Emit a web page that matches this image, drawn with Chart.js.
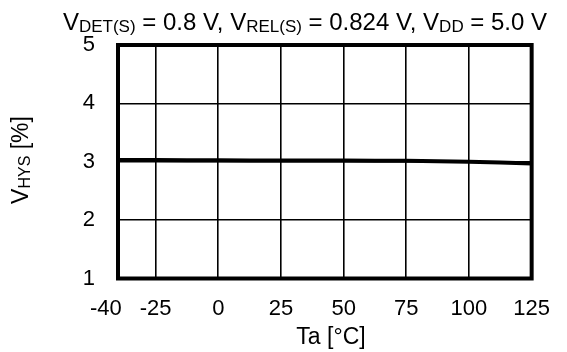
<!DOCTYPE html>
<html>
<head>
<meta charset="utf-8">
<script src="https://cdn.jsdelivr.net/npm/chart.js@4"></script>
<style>
  html, body { margin: 0; padding: 0; background: #fff; }
  #wrap { width: 567px; height: 352px; }
</style>
</head>
<body>
<div id="wrap"><canvas id="chart"></canvas></div>
<script>
/* VHYS vs Ta — hysteresis over temperature */

const TEMPS = [-40, -25, 0, 25, 50, 75, 100, 125];
const X_TICKS = [-40, -25, 0, 25, 50, 75, 100, 125];
const Y_TICKS = [1, 2, 3, 4, 5];
const HYS = [3.03, 3.03, 3.025, 3.02, 3.02, 3.015, 3.0, 2.97];

const FONT = "'Liberation Sans', Arial, sans-serif";

// draw text with subscript pieces; parts = [[text, isSub], ...]
function drawRich(ctx, parts, x, y, size, subSize, align) {
    const widths = parts.map(p => {
        ctx.font = `${p[1] ? subSize : size}px ${FONT}`;
        return ctx.measureText(p[0]).width;
    });
    const total = widths.reduce((a, b) => a + b, 0);
    let cx = align === "center" ? x - total / 2 : x;
    parts.forEach((p, i) => {
        ctx.font = `${p[1] ? subSize : size}px ${FONT}`;
        ctx.fillText(p[0], cx, p[1] ? y + 2 : y);
        cx += widths[i];
    });
}

const decorPlugin = {
    id: "decor",
    afterDatasetsDraw(chart) {
        const { ctx, chartArea: a } = chart;
        ctx.save();
        ctx.strokeStyle = "#000";
        ctx.lineWidth = 4;
        ctx.strokeRect(a.left, a.top, a.right - a.left, a.bottom - a.top);

        ctx.fillStyle = "#000";
        ctx.textBaseline = "alphabetic";
        ctx.textAlign = "left";
        drawRich(ctx, [
            ["V", false], ["DET(S)", true], [" = 0.8 V, V", false], ["REL(S)", true],
            [" = 0.824 V, V", false], ["DD", true], [" = 5.0 V", false]
        ], 305, 30, 24, 17, "center");

        drawRich(ctx, [["Ta [°C]", false]], 331, 344, 23, 16, "center");

        ctx.translate(28, 160);
        ctx.rotate(-Math.PI / 2);
        drawRich(ctx, [["V", false], ["HYS", true], [" [%]", false]], 0, 0, 23, 16, "center");
        ctx.restore();
    }
};

new Chart(document.getElementById("chart"), {
    type: "line",
    data: {
        datasets: [{
            data: TEMPS.map((t, i) => ({ x: t, y: HYS[i] })),
            borderColor: "#000",
            borderWidth: 4,
            pointRadius: 0,
            tension: 0.3,
            fill: false,
        }]
    },
    options: {
        responsive: true,
        maintainAspectRatio: false,
        animation: false,
        layout: { padding: { top: 45, right: 20, left: 0, bottom: 0 } },
        plugins: { legend: { display: false }, tooltip: { enabled: false } },
        scales: {
            x: {
                type: "linear",
                min: -40,
                max: 125,
                afterBuildTicks: (s) => { s.ticks = X_TICKS.map(v => ({ value: v })); },
                afterFit: (s) => { s.height = 73.5; },
                grid: { color: "#000", lineWidth: 1.6, drawTicks: false },
                border: { display: false },
                ticks: {
                    color: "#000", padding: 17, maxRotation: 0, autoSkip: false,
                    font: { family: FONT, size: 22 },
                    // first label sits a bit left of its gridline
                    callback: (v) => v === -40 ? "-40    " : String(v),
                },
            },
            y: {
                min: 1,
                max: 5,
                afterBuildTicks: (s) => { s.ticks = Y_TICKS.map(v => ({ value: v })); },
                afterFit: (s) => { s.width = 118; },
                grid: { color: "#000", lineWidth: 1.6, drawTicks: false },
                border: { display: false },
                ticks: { color: "#000", padding: 23, font: { family: FONT, size: 22 } },
            }
        }
    },
    plugins: [decorPlugin]
});
</script>
</body>
</html>
